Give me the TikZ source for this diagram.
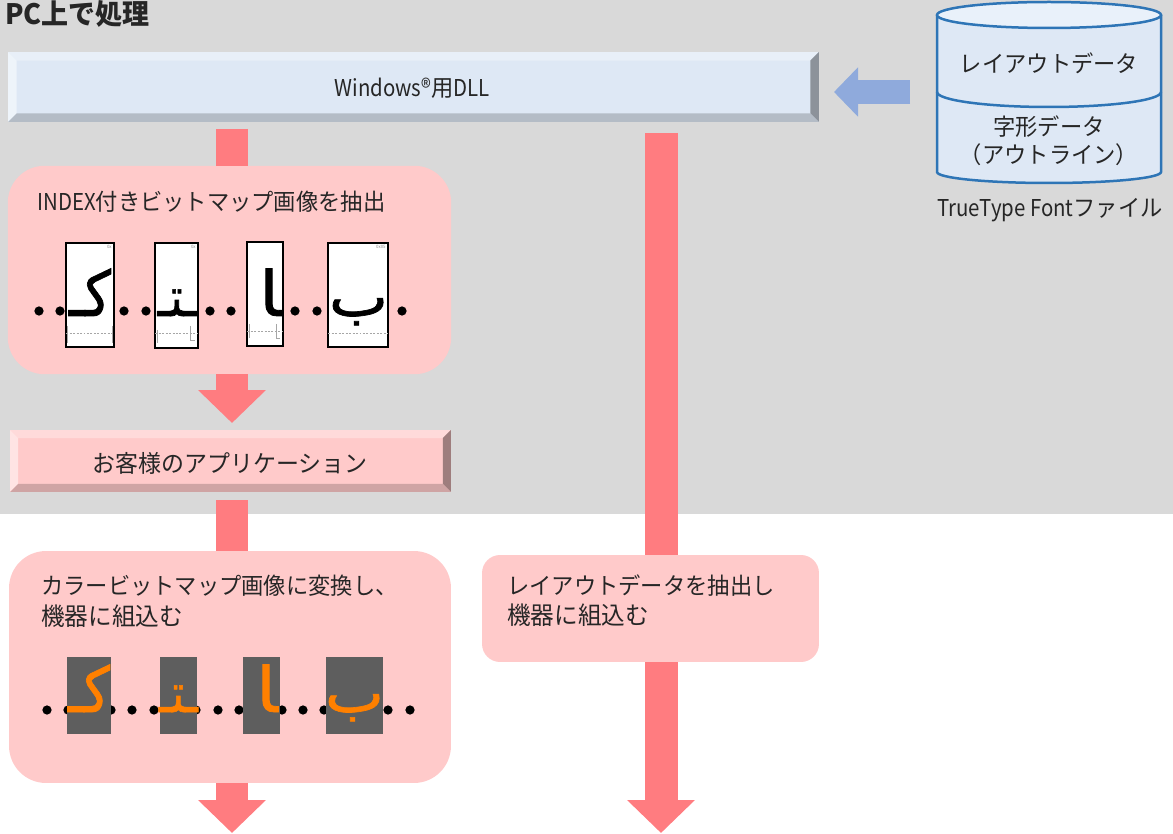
\documentclass[tikz,border=0pt]{standalone}
\usepackage{fontspec}
\setmainfont[FakeStretch=0.96]{Noto Sans CJK JP}
\newfontfamily\latnfont[FakeStretch=0.88]{Noto Sans CJK JP}
\newfontfamily\arabfont[Script=Arabic,FakeBold=1.2]{DejaVu Sans}
\TeXXeTstate=1
\usetikzlibrary{positioning, calc, arrows.meta}

\definecolor{flowred}{HTML}{FF7C80}
\definecolor{cardpink}{HTML}{FFCACA}
\definecolor{bargray}{HTML}{D9D9D9}
\definecolor{barblue}{HTML}{DEE8F5}
\definecolor{arrowblue}{HTML}{8FAADC}
\definecolor{cylline}{HTML}{2E75B6}
\definecolor{cyltop}{HTML}{E9F1FA}
\definecolor{darkcell}{HTML}{5E5E5E}
\definecolor{glyphorange}{HTML}{FF8000}

\tikzset{
    cardbox/.style={fill=cardpink, rounded corners=0.74cm, inner sep=0pt, outer sep=0pt},
    barbox/.style={inner sep=0pt, outer sep=0pt},
    cellbox/.style={draw=black, line width=0.035cm, fill=white, inner sep=0pt, outer sep=0pt},
    darkbox/.style={fill=darkcell, inner sep=0pt, outer sep=0pt},
    txt/.style={font=\fontsize{13.2pt}{17pt}\selectfont, inner sep=0pt, align=left, text=black!85},
    dotmark/.style={circle, fill=black, inner sep=0pt, minimum size=0.185cm},
    flowline/.style={draw=flowred, line width=0.66cm},
    flowhead/.style={flowline, -{Triangle[width=1.32cm, length=0.66cm]}},
    bluehead/.style={draw=arrowblue, line width=0.48cm, -{Triangle[width=0.96cm, length=0.48cm]}},
    glyph/.style={font=\fontsize{31pt}{31pt}\selectfont, inner sep=0pt, anchor=base},
    ticks/.style={draw=black!35, line width=0.012cm},
    base/.style={ticks, dash pattern=on 0.04cm off 0.03cm},
    tinytxt/.style={font=\fontsize{2.6pt}{3pt}\selectfont, text=black!45, inner sep=0pt, anchor=north east},
}

% four bevel faces round a bar node
\newcommand{\bevelfaces}[6]{
    \fill[#3] (#1.north west) -- (#1.north east) -- ++(-#2,-#2) -- ($(#1.north west)+(#2,-#2)$) -- cycle;
    \fill[#4] (#1.north west) -- (#1.south west) -- ++(#2,#2) -- ($(#1.north west)+(#2,-#2)$) -- cycle;
    \fill[#5] (#1.north east) -- (#1.south east) -- ++(-#2,#2) -- ($(#1.north east)+(-#2,-#2)$) -- cycle;
    \fill[#6] (#1.south west) -- (#1.south east) -- ++(-#2,#2) -- ($(#1.south west)+(#2,#2)$) -- cycle;
}
\newcommand{\arabglyph}[3]{\scalebox{#1}[#2]{\arabfont\beginR #3\endR}}
\newcommand{\kafglyph}{\arabglyph{1.0}{1.15}{کـ}}
\newcommand{\tehglyph}{\arabglyph{0.8}{1.0}{ـتـ}}
\newcommand{\alefglyph}{\arabglyph{1.3}{1.15}{ﺎ}}
\newcommand{\behglyph}{\arabglyph{1.15}{1.0}{ب}}

\begin{document}
\begin{tikzpicture}[x=0.02cm, y=-0.02cm]
    \useasboundingbox (0,0) rectangle (1173,834);
    \fill[bargray] (0,0) rectangle (1173,514);

    % boxes
    \node[barbox, fill=barblue, minimum width=16.22cm, minimum height=1.40cm] (dll) at (413.5,87) {};
    \bevelfaces{dll}{0.17cm}{barblue!70!white}{barblue!50!white}{barblue!63!black}{barblue!81!black}
    \node[cardbox, minimum width=8.87cm, minimum height=4.17cm] (card1) at (229.5,270) {};
    \node[barbox, fill=cardpink, minimum width=8.82cm, minimum height=1.24cm] (app) at (230.5,461) {};
    \bevelfaces{app}{0.16cm}{cardpink!70!white}{cardpink!50!white}{cardpink!62!black}{cardpink!81!black}

    % connectors
    \coordinate (s1) at (232,129);
    \coordinate (s2) at (232,423);
    \coordinate (s3) at (232,500);
    \coordinate (s4) at (232,833);
    \coordinate (s5) at (661,133);
    \coordinate (s6) at (661,833);
    \draw[flowline] (s1) -- (card1.north -| s1);
    \draw[flowhead] (card1.south -| s2) -- (s2);
    \node[cardbox, minimum width=8.84cm, minimum height=4.64cm] (card2) at (230,667) {};
    \draw[flowline] (s3) -- (card2.north -| s3);
    \draw[flowhead] (card2.south -| s4) -- (s4);
    \draw[flowhead] (s5) -- (s6);
    \node[cardbox, rounded corners=0.36cm, minimum width=6.74cm, minimum height=2.14cm] (card3) at (650.5,608.5) {};

    % cylinder
    \coordinate (cyl) at (1049,15);
    \draw[cylline, line width=0.05cm, fill=barblue] (937,15) -- (937,172) arc[start angle=180, end angle=360, x radius=112, y radius=-11] -- (1161,15);
    \draw[cylline, line width=0.05cm, fill=cyltop] (cyl) ellipse[x radius=112, y radius=13];
    \draw[cylline, line width=0.05cm] (937,92) arc[start angle=180, end angle=360, x radius=112, y radius=-15];
    \coordinate (a1) at (910,92);
    \coordinate (a2) at (834,92);
    \draw[bluehead] (a1) -- (a2);

    % text
    \node[txt, anchor=west, font=\fontsize{16pt}{17pt}\selectfont\bfseries] (title) at (5,14) {PC上で処理};
    \node[txt] (dlltxt) at (412,88) {{\latnfont Windows®}用{\latnfont DLL}};
    \node[txt, font=\fontsize{13.6pt}{17pt}\selectfont] (apptxt) at (230,463) {お客様のアプリケーション};
    \node[txt, anchor=west] (c1txt) at (37,202) {{\latnfont INDEX}付きビットマップ画像を抽出};
    \node[txt, anchor=north west] (c2txt) at (41,575) {カラービットマップ画像に変換し、\\[0.5pt]{\fontsize{14pt}{17pt}\selectfont 機器に組込む}};
    \node[txt, anchor=north west] (c3txt) at (507,574) {レイアウトデータを抽出し\\[0.5pt]{\fontsize{14pt}{17pt}\selectfont 機器に組込む}};
    \node[txt] (lay) at (1049,63) {レイアウトデータ};
    \node[txt, align=center] (out) at (1049,141) {字形データ\\[-1pt]（アウトライン）};
    \node[txt] (ttf) at (1050,210) {{\latnfont TrueType Font}ファイル};

    % bitmap row
    \foreach \x in {39,60,124,146,210,231,295,317,402}
        \node[dotmark] at (\x,311) {};
    \node[cellbox, minimum width=0.96cm, minimum height=2.08cm] (b1) at (90,295) {};
    \node[cellbox, minimum width=0.86cm, minimum height=2.10cm] (b2) at (176.5,295.5) {};
    \node[cellbox, minimum width=0.72cm, minimum height=2.08cm] (b3) at (265,294) {};
    \node[cellbox, minimum width=1.20cm, minimum height=2.08cm] (b4) at (358,295) {};
    \node[glyph] (gb1) at (90,316) {\kafglyph};
    \node[glyph] (gb2) at (177,316) {\tehglyph};
    \node[glyph] (gb3) at (270,316) {\alefglyph};
    \node[glyph] (gb4) at (358.5,316) {\behglyph};
    \foreach \n/\y in {b1/333,b2/333,b3/331,b4/333}
        \draw[base] (\n.west |- 0,\y) -- (\n.east |- 0,\y);
    \draw[ticks] (67,326) -- (67,343) (112,326) -- (112,343);
    \draw[ticks] (157,330) -- (157,343) (190,326) -- (190,340) -- (195,340);
    \draw[ticks] (249,324) -- (249,338) (276,324) -- (276,338) -- (280,338);
    \node[tinytxt] at ($(b1.north east)+(-2,2)$) {0x};
    \node[tinytxt] at ($(b2.north east)+(-2,2)$) {0x};
    \node[tinytxt] at ($(b4.north east)+(-2,2)$) {0x05};

    % colour row
    \foreach \x in {47,68,111,132,154,196,218,239,282,303,324,388,410}
        \node[dotmark] at (\x,710) {};
    \node[darkbox, minimum width=0.88cm, minimum height=1.54cm] (d1) at (89,695.5) {};
    \node[darkbox, minimum width=0.74cm, minimum height=1.54cm] (d2) at (178.5,695.5) {};
    \node[darkbox, minimum width=0.74cm, minimum height=1.54cm] (d3) at (261.5,695.5) {};
    \node[darkbox, minimum width=1.14cm, minimum height=1.54cm] (d4) at (354.5,695.5) {};
    \node[glyph, text=glyphorange] (gd1) at (89,712) {\kafglyph};
    \node[glyph, text=glyphorange] (gd2) at (178.5,712) {\tehglyph};
    \node[glyph, text=glyphorange] (gd3) at (267,712) {\alefglyph};
    \node[glyph, text=glyphorange] (gd4) at (354.5,712) {\behglyph};
\end{tikzpicture}
\end{document}
